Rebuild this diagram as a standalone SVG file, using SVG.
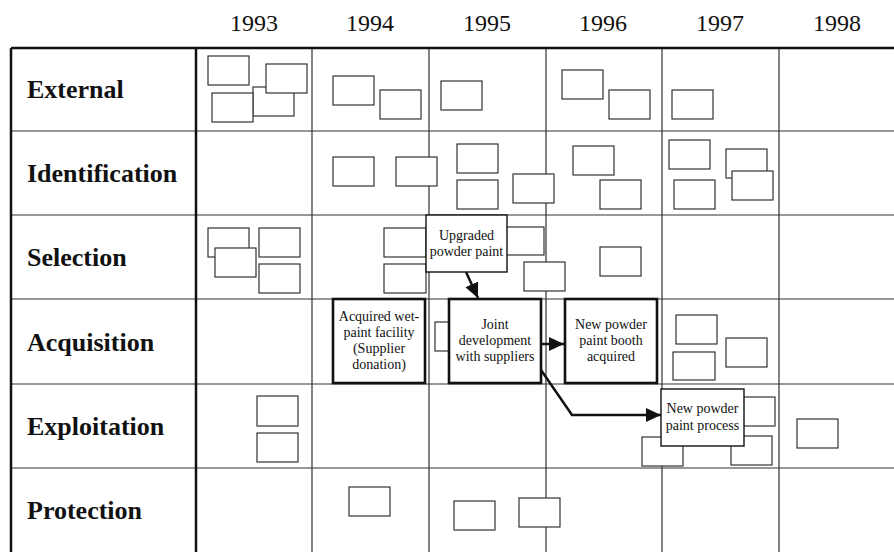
<svg xmlns="http://www.w3.org/2000/svg" width="894" height="552" viewBox="0 0 894 552">
<defs>
<style>
.grid{stroke:#333;stroke-width:1.2;fill:none}
.thick{stroke:#111;stroke-width:2.5;fill:none}
.sb{fill:#fff;stroke:#333;stroke-width:1.2}
.lb{fill:#fff;stroke:#111;stroke-width:1.4}
.tb{fill:#fff;stroke:#111;stroke-width:2.6}
.yr{font-family:"Liberation Serif",serif;font-size:24px;fill:#111;text-anchor:middle}
.rl{font-family:"Liberation Serif",serif;font-size:26px;font-weight:bold;fill:#111}
.tx{font-family:"Liberation Serif",serif;font-size:14px;fill:#111;text-anchor:middle}
.cn{stroke:#111;stroke-width:2.5;fill:none}
</style>
<marker id="ah" markerUnits="userSpaceOnUse" markerWidth="16" markerHeight="16" viewBox="0 0 16 16" refX="15" refY="8" orient="auto">
<path d="M0,1 L15,8 L0,15 Z" fill="#111"/>
</marker>
</defs>
<rect width="894" height="552" fill="#fff"/>
<g id="years">
<text class="yr" x="254" y="31">1993</text>
<text class="yr" x="370" y="31">1994</text>
<text class="yr" x="487" y="31">1995</text>
<text class="yr" x="603" y="31">1996</text>
<text class="yr" x="720" y="31">1997</text>
<text class="yr" x="837" y="31">1998</text>
</g>
<g id="grid">
<path class="grid" d="M11,131H894M11,215H894M11,299H894M11,384H894M11,468H894M312,48V552M429,48V552M546,48V552M662,48V552M779,48V552"/>
<path class="thick" d="M11,48H894M11,48V552M196,48V552"/>
</g>
<g id="rows">
<text class="rl" x="27" y="98">External</text>
<text class="rl" x="27" y="182">Identification</text>
<text class="rl" x="27" y="266">Selection</text>
<text class="rl" x="27" y="351">Acquisition</text>
<text class="rl" x="27" y="435">Exploitation</text>
<text class="rl" x="27" y="519">Protection</text>
</g>
<g id="small-boxes">
<rect class="sb" x="253" y="87" width="41" height="29"/>
<rect class="sb" x="266" y="64" width="41" height="29"/>
<rect class="sb" x="212" y="93" width="41" height="29"/>
<rect class="sb" x="208" y="56" width="41" height="29"/>
<rect class="sb" x="333" y="76" width="41" height="29"/>
<rect class="sb" x="380" y="90" width="41" height="29"/>
<rect class="sb" x="441" y="81" width="41" height="29"/>
<rect class="sb" x="562" y="70" width="41" height="29"/>
<rect class="sb" x="609" y="90" width="41" height="29"/>
<rect class="sb" x="672" y="90" width="41" height="29"/>
<rect class="sb" x="333" y="157" width="41" height="29"/>
<rect class="sb" x="396" y="157" width="41" height="29"/>
<rect class="sb" x="457" y="144" width="41" height="29"/>
<rect class="sb" x="457" y="180" width="41" height="29"/>
<rect class="sb" x="513" y="174" width="41" height="29"/>
<rect class="sb" x="573" y="146" width="41" height="29"/>
<rect class="sb" x="600" y="180" width="41" height="29"/>
<rect class="sb" x="669" y="140" width="41" height="29"/>
<rect class="sb" x="726" y="149" width="41" height="29"/>
<rect class="sb" x="674" y="180" width="41" height="29"/>
<rect class="sb" x="732" y="171" width="41" height="29"/>
<rect class="sb" x="208" y="228" width="41" height="29"/>
<rect class="sb" x="215" y="248" width="41" height="29"/>
<rect class="sb" x="259" y="228" width="41" height="29"/>
<rect class="sb" x="259" y="264" width="41" height="29"/>
<rect class="sb" x="384" y="228" width="42" height="29"/>
<rect class="sb" x="384" y="264" width="42" height="29"/>
<rect class="sb" x="503" y="227" width="41" height="28"/>
<rect class="sb" x="524" y="262" width="41" height="29"/>
<rect class="sb" x="600" y="247" width="41" height="29"/>
<rect class="sb" x="435" y="322" width="41" height="29"/>
<rect class="sb" x="676" y="315" width="41" height="29"/>
<rect class="sb" x="726" y="338" width="41" height="29"/>
<rect class="sb" x="673" y="352" width="42" height="28"/>
<rect class="sb" x="257" y="396" width="41" height="30"/>
<rect class="sb" x="257" y="433" width="41" height="29"/>
<rect class="sb" x="734" y="397" width="41" height="29"/>
<rect class="sb" x="642" y="437" width="41" height="29"/>
<rect class="sb" x="731" y="436" width="41" height="29"/>
<rect class="sb" x="797" y="419" width="41" height="29"/>
<rect class="sb" x="349" y="487" width="41" height="29"/>
<rect class="sb" x="454" y="501" width="41" height="29"/>
<rect class="sb" x="519" y="498" width="41" height="29"/>
</g>
<g id="connectors">
<path class="cn" d="M466,272 L478,298" marker-end="url(#ah)"/>
<path class="cn" d="M541,344 H564" marker-end="url(#ah)"/>
<path class="cn" d="M541,370 L572,415 H661" marker-end="url(#ah)"/>
</g>
<g id="upgraded">
<rect class="lb" x="426" y="215" width="81" height="57"/>
<text class="tx" x="466.5" y="240">Upgraded</text>
<text class="tx" x="466.5" y="256">powder paint</text>
</g>
<g id="acquired-wet">
<rect class="tb" x="333" y="299" width="92" height="84"/>
<text class="tx" x="379" y="321">Acquired wet-</text>
<text class="tx" x="379" y="337">paint facility</text>
<text class="tx" x="379" y="353">(Supplier</text>
<text class="tx" x="379" y="369">donation)</text>
</g>
<g id="joint">
<rect class="tb" x="449" y="299" width="92" height="84"/>
<text class="tx" x="495" y="329">Joint</text>
<text class="tx" x="495" y="345">development</text>
<text class="tx" x="495" y="361">with suppliers</text>
</g>
<g id="booth">
<rect class="tb" x="565" y="299" width="92" height="84"/>
<text class="tx" x="611" y="329">New powder</text>
<text class="tx" x="611" y="345">paint booth</text>
<text class="tx" x="611" y="361">acquired</text>
</g>
<g id="process">
<rect class="lb" x="661" y="389" width="83" height="57"/>
<text class="tx" x="702.5" y="413">New powder</text>
<text class="tx" x="702.5" y="430">paint process</text>
</g>
</svg>
